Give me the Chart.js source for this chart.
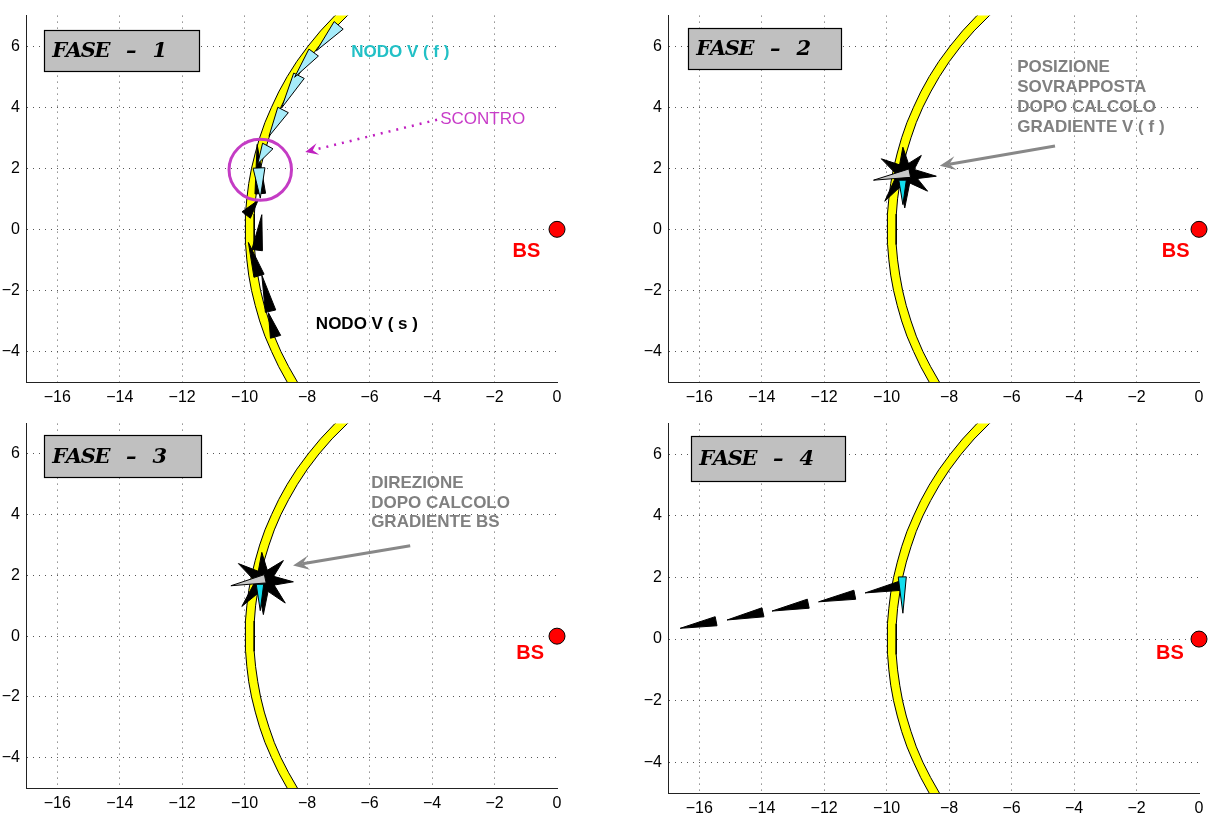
<!DOCTYPE html>
<html><head><meta charset="utf-8">
<script src="https://cdn.jsdelivr.net/npm/chart.js@4.4.1/dist/chart.umd.min.js"></script>
<style>
html,body{margin:0;padding:0;background:#fff;width:1210px;height:817px;overflow:hidden}
canvas{position:absolute}
</style></head><body>
<canvas id="c1" width="600" height="410" style="left:0;top:0;width:600px;height:410px"></canvas>
<canvas id="c2" width="568" height="410" style="left:642px;top:0;width:568px;height:410px"></canvas>
<canvas id="c3" width="600" height="409" style="left:0;top:408px;width:600px;height:409px"></canvas>
<canvas id="c4" width="568" height="409" style="left:642px;top:408px;width:568px;height:409px"></canvas>
<script>
// ---------------- data ----------------
const xTicks = [-16,-14,-12,-10,-8,-6,-4,-2,0];
const yTicks = [-4,-2,0,2,4,6];
const xRange = [-17, 0];
const yRange = [-5, 7];

// yellow coverage band (outer / inner edge)
const bandY = [-6,-5.5,-5,-4.5,-4,-3.5,-3,-2.5,-2,-1.5,-1,-0.5,0,0.5,1,1.5,2,2.5,3,3.5,4,4.5,5,5.5,6,6.5,7,7.5,8];
const bandOuterX = [-7.97,-8.33,-8.64,-8.91,-9.14,-9.35,-9.52,-9.66,-9.78,-9.87,-9.93,-9.97,-9.98,-9.97,-9.93,-9.87,-9.78,-9.66,-9.52,-9.35,-9.14,-8.91,-8.64,-8.33,-7.97,-7.57,-7.11,-6.58,-5.97];
const bandInnerX = [-7.62,-7.99,-8.31,-8.59,-8.84,-9.05,-9.22,-9.37,-9.49,-9.58,-9.65,-9.69,-9.70,-9.69,-9.65,-9.58,-9.49,-9.37,-9.22,-9.05,-8.84,-8.59,-8.31,-7.99,-7.62,-7.20,-6.71,-6.15,-5.49];

// base station
const bsX = [0];
const bsY = [0];

// FASE 1 : NODO V(f) (cyan) arrows, base centre -> tip
const p1fBaseX = [-6.99,-7.79,-8.26,-8.77,-9.26,-9.54];
const p1fBaseY = [6.68,5.79,5.03,3.91,2.73,2.01];
const p1fTipX  = [-7.70,-8.40,-8.82,-9.22,-9.58,-9.50];
const p1fTipY  = [5.85,4.98,3.97,3.05,2.15,1.02];
// FASE 1 : NODO V(s) (black) arrows
const p1sBaseX = [-9.50,-9.95,-9.60,-9.54,-9.17,-9.01];
const p1sBaseY = [1.17,0.47,-0.68,-1.52,-2.68,-3.52];
const p1sTipX  = [-9.60,-9.57,-9.45,-9.88,-9.45,-9.24];
const p1sTipY  = [2.78,0.95,0.48,-0.43,-1.50,-2.73];

// FASE 2 : star of candidate directions
const p2Centre   = [-9.42, 1.83];
const p2StarTipX = [-9.48,-10.17,-8.89,-8.41,-8.69,-9.42,-10.06];
const p2StarTipY = [2.69,2.31,2.42,1.74,1.25,0.70,0.92];
const p2GreyBase = [-9.26, 1.84];
const p2GreyTip  = [-10.42, 1.61];
const p2CyanBase = [-9.49, 1.61];
const p2CyanTip  = [-9.48, 0.81];

// FASE 3
const p3Centre   = [-9.40, 1.84];
const p3StarTipX = [-9.45,-10.20,-8.76,-8.44,-8.70,-9.40,-10.09];
const p3StarTipY = [2.76,2.39,2.49,1.79,1.09,0.71,0.98];
const p3GreyBase = [-9.34, 1.89];
const p3GreyTip  = [-10.44, 1.66];
const p3CyanBase = [-9.51, 1.71];
const p3CyanTip  = [-9.50, 0.84];

// FASE 4 : path towards BS gradient
const p4BaseX = [-15.46,-13.96,-12.51,-11.02,-9.57];
const p4BaseY = [0.58,0.87,1.15,1.44,1.73];
const p4TipX  = [-16.61,-15.11,-13.67,-12.18,-10.69];
const p4TipY  = [0.35,0.62,0.91,1.21,1.50];
const p4CyanBase = [-9.50, 2.02];
const p4CyanTip  = [-9.48, 0.84];

// texts
const faseLabels = ['FASE - 1','FASE - 2','FASE - 3','FASE - 4'];
const bsLabel = 'BS';
const p1LabelF = 'NODO V ( f )';
const p1LabelS = 'NODO V ( s )';
const p1LabelScontro = 'SCONTRO';
const p2Note = ['POSIZIONE','SOVRAPPOSTA','DOPO CALCOLO','GRADIENTE V ( f )'];
const p3Note = ['DIREZIONE','DOPO CALCOLO','GRADIENTE BS'];

// ---------------- helpers ----------------
const SANS = '"Liberation Sans", Arial, sans-serif';
const SERIF = '"DejaVu Serif", "Liberation Serif", serif';

function triPts(bx,by,tx,ty,hw){
  const dx=tx-bx, dy=ty-by, L=Math.hypot(dx,dy);
  const nx=-dy/L*hw, ny=dx/L*hw;
  return [{x:bx+nx,y:by+ny},{x:tx,y:ty},{x:bx-nx,y:by-ny},{x:bx+nx,y:by+ny}];
}
function poly(pts,color,order){
  return {data:pts, showLine:true, fill:'shape', backgroundColor:color, borderColor:'#000',
    borderWidth:1, pointRadius:0, pointHoverRadius:0, tension:0, order:order};
}
function bandDS(){
  const pts=[];
  for(let i=0;i<bandY.length;i++) pts.push({x:bandOuterX[i],y:bandY[i]});
  for(let i=bandY.length-1;i>=0;i--) pts.push({x:bandInnerX[i],y:bandY[i]});
  pts.push({x:bandOuterX[0],y:bandY[0]});
  return poly(pts,'#ffff00',50);
}
function trisDS(bx,by,tx,ty,hw,color,order){
  return bx.map((_,i)=>poly(triPts(bx[i],by[i],tx[i],ty[i],hw),color,order));
}
function starDS(c,tx,ty,hw){
  return tx.map((_,i)=>poly(triPts(c[0],c[1],tx[i],ty[i],hw),'#000000',10));
}
function bsDS(){
  return {data:bsX.map((x,i)=>({x:x,y:bsY[i]})), showLine:false, pointRadius:8, pointHoverRadius:8,
    pointBackgroundColor:'#ff0000', pointBorderColor:'#000', pointBorderWidth:1, clip:false, order:0};
}
const fmt = v => v<0 ? '\u2212'+(-v) : ''+v;

function scales(xh){
  return {
    x:{type:'linear', min:xRange[0], max:xRange[1],
      afterBuildTicks:s=>{s.ticks=xTicks.map(v=>({value:v}));},
      afterFit:s=>{s.height=xh;},
      ticks:{callback:fmt, color:'#000', font:{family:SANS,size:16}, padding:6, maxRotation:0, autoSkip:false},
      grid:{drawTicks:false, lineWidth:1, color:c=>(c.tick && c.tick.value===0)?'rgba(0,0,0,0)':'#555'},
      border:{display:true, color:'#222', width:1, dash:[1,5]}},
    y:{type:'linear', min:yRange[0], max:yRange[1],
      afterBuildTicks:s=>{s.ticks=yTicks.map(v=>({value:v}));},
      afterFit:s=>{s.width=26;},
      ticks:{callback:fmt, color:'#000', font:{family:SANS,size:16}, padding:6, autoSkip:false},
      grid:{drawTicks:false, lineWidth:1, color:'#555'},
      border:{display:true, color:'#222', width:1, dash:[1,5]}}
  };
}

const annots = {};
function drawArrow(ctx,x1,y1,x2,y2,color,w,dash,hl,hw){
  const a=Math.atan2(y2-y1,x2-x1), ca=Math.cos(a), sa=Math.sin(a);
  ctx.save();
  ctx.strokeStyle=color; ctx.lineWidth=w; ctx.setLineDash(dash);
  ctx.beginPath(); ctx.moveTo(x1,y1); ctx.lineTo(x2-ca*hl*0.6,y2-sa*hl*0.6); ctx.stroke();
  ctx.setLineDash([]); ctx.fillStyle=color;
  ctx.beginPath(); ctx.moveTo(x2,y2);
  ctx.lineTo(x2-ca*hl+sa*hw/2, y2-sa*hl-ca*hw/2);
  ctx.lineTo(x2-ca*hl*0.6, y2-sa*hl*0.6);
  ctx.lineTo(x2-ca*hl-sa*hw/2, y2-sa*hl+ca*hw/2);
  ctx.closePath(); ctx.fill();
  ctx.restore();
}
// monospaced (Courier-like) drawing: one cell per character
function drawMono(ctx,s,x,y,adv){
  for(let i=0;i<s.length;i++){
    const ch = s[i]==='-' ? '\u2013' : s[i];
    ctx.fillText(ch, x+i*adv+adv/2, y);
  }
}
const annotPlugin = {
  id:'annot',
  afterDatasetsDraw(chart){
    const A=annots[chart.canvas.id]; if(!A) return;
    const ctx=chart.ctx, xs=chart.scales.x, ys=chart.scales.y;
    const X=v=>xs.getPixelForValue(v), Y=v=>ys.getPixelForValue(v);
    ctx.save();
    // FASE box
    const b=A.box;
    const bx=Math.round(X(b.x0))+0.5, by=Math.round(Y(b.y1))+0.5, bw=Math.round(X(b.x1)-X(b.x0)), bh=Math.round(Y(b.y0)-Y(b.y1));
    ctx.fillStyle='#c0c0c0'; ctx.fillRect(bx,by,bw,bh);
    ctx.strokeStyle='#000'; ctx.lineWidth=1.2; ctx.strokeRect(bx,by,bw,bh);
    ctx.fillStyle='#000'; ctx.font='italic bold 21px '+SERIF; ctx.textBaseline='middle'; ctx.textAlign='center';
    drawMono(ctx, A.fase, bx+8, by+bh/2+1, 14.3);
    // circle
    if(A.circle){
      const c=A.circle;
      ctx.beginPath();
      ctx.ellipse(X(c.x),Y(c.y),Math.abs(X(c.x+c.r)-X(c.x)),Math.abs(Y(c.y+c.r)-Y(c.y)),0,0,Math.PI*2);
      ctx.strokeStyle=c.color; ctx.lineWidth=3; ctx.stroke();
    }
    // arrows
    (A.arrows||[]).forEach(a=>drawArrow(ctx,X(a.x1),Y(a.y1),X(a.x2),Y(a.y2),a.color,a.w,a.dash,a.hl,a.hw));
    // texts
    (A.texts||[]).forEach(t=>{
      ctx.fillStyle=t.color; ctx.font=t.font; ctx.textAlign=t.align||'left'; ctx.textBaseline='middle';
      const lines=Array.isArray(t.t)?t.t:[t.t];
      lines.forEach((s,i)=>ctx.fillText(s,X(t.x),Y(t.y)+i*(t.lh||0)));
    });
    ctx.restore();
  }
};

function make(id, pad, xh, datasets, annot){
  annots[id]=annot;
  new Chart(document.getElementById(id), {
    type:'scatter',
    data:{datasets:datasets},
    options:{
      responsive:false, animation:false, events:[],
      layout:{padding:pad},
      plugins:{legend:{display:false}, tooltip:{enabled:false}},
      scales:scales(xh)
    },
    plugins:[annotPlugin]
  });
}

const BOLD17 = 'bold 17px '+SANS;
const BSFONT = 'bold 20px '+SANS;

// ---- FASE 1 ----
make('c1', {top:9,right:43,left:0,bottom:0}, 28,
  [bandDS(),
   ...trisDS(p1sBaseX,p1sBaseY,p1sTipX,p1sTipY,0.17,'#000000',10),
   ...trisDS(p1fBaseX,p1fBaseY,p1fTipX,p1fTipY,0.19,'#a6ecfa',5),
   bsDS()],
  {fase:faseLabels[0], box:{x0:-16.42,x1:-11.46,y0:5.19,y1:6.54},
   circle:{x:-9.50,y:1.95,r:1.0,color:'#c43cc4'},
   arrows:[{x1:-3.84,y1:3.59,x2:-8.06,y2:2.53,color:'#c020c0',w:2.5,dash:[2,6],hl:13,hw:12}],
   texts:[
     {t:p1LabelF,x:-6.59,y:5.80,color:'#22c0c6',font:BOLD17},
     {t:p1LabelScontro,x:-3.74,y:3.59,color:'#c83cc8',font:'17px '+SANS},
     {t:p1LabelS,x:-7.72,y:-3.10,color:'#000',font:BOLD17},
     {t:bsLabel,x:-0.98,y:-0.72,color:'#ff0000',font:BSFONT,align:'center'}
   ]});

// ---- FASE 2 ----
make('c2', {top:10,right:11,left:0,bottom:0}, 28,
  [bandDS(),
   ...starDS(p2Centre,p2StarTipX,p2StarTipY,0.22),
   poly(triPts(p2CyanBase[0],p2CyanBase[1],p2CyanTip[0],p2CyanTip[1],0.12),'#11dded',5),
   poly(triPts(p2GreyBase[0],p2GreyBase[1],p2GreyTip[0],p2GreyTip[1],0.14),'#c8c8c8',4),
   bsDS()],
  {fase:faseLabels[1], box:{x0:-16.35,x1:-11.46,y0:5.25,y1:6.60},
   arrows:[{x1:-4.61,y1:2.73,x2:-8.30,y2:2.08,color:'#888888',w:3,dash:[],hl:16,hw:14}],
   texts:[
     {t:p2Note,x:-5.82,y:5.31,lh:20,color:'#808080',font:BOLD17},
     {t:bsLabel,x:-0.75,y:-0.72,color:'#ff0000',font:BSFONT,align:'center'}
   ]});

// ---- FASE 3 ----
make('c3', {top:9,right:43,left:0,bottom:0}, 29,
  [bandDS(),
   ...starDS(p3Centre,p3StarTipX,p3StarTipY,0.22),
   poly(triPts(p3CyanBase[0],p3CyanBase[1],p3CyanTip[0],p3CyanTip[1],0.12),'#11dded',5),
   poly(triPts(p3GreyBase[0],p3GreyBase[1],p3GreyTip[0],p3GreyTip[1],0.14),'#c8c8c8',4),
   bsDS()],
  {fase:faseLabels[2], box:{x0:-16.42,x1:-11.39,y0:5.25,y1:6.64},
   arrows:[{x1:-4.70,y1:2.98,x2:-8.45,y2:2.33,color:'#888888',w:3,dash:[],hl:16,hw:14}],
   texts:[
     {t:p3Note,x:-5.95,y:5.03,lh:19.5,color:'#808080',font:BOLD17},
     {t:bsLabel,x:-0.86,y:-0.58,color:'#ff0000',font:BSFONT,align:'center'}
   ]});

// ---- FASE 4 ----
make('c4', {top:12,right:11,left:0,bottom:0}, 24,
  [bandDS(),
   ...trisDS(p4BaseX,p4BaseY,p4TipX,p4TipY,0.15,'#000000',10),
   poly(triPts(p4CyanBase[0],p4CyanBase[1],p4CyanTip[0],p4CyanTip[1],0.13),'#11dded',5),
   bsDS()],
  {fase:faseLabels[3], box:{x0:-16.26,x1:-11.33,y0:5.14,y1:6.61},
   texts:[
     {t:bsLabel,x:-0.93,y:-0.46,color:'#ff0000',font:BSFONT,align:'center'}
   ]});
</script>
</body></html>
